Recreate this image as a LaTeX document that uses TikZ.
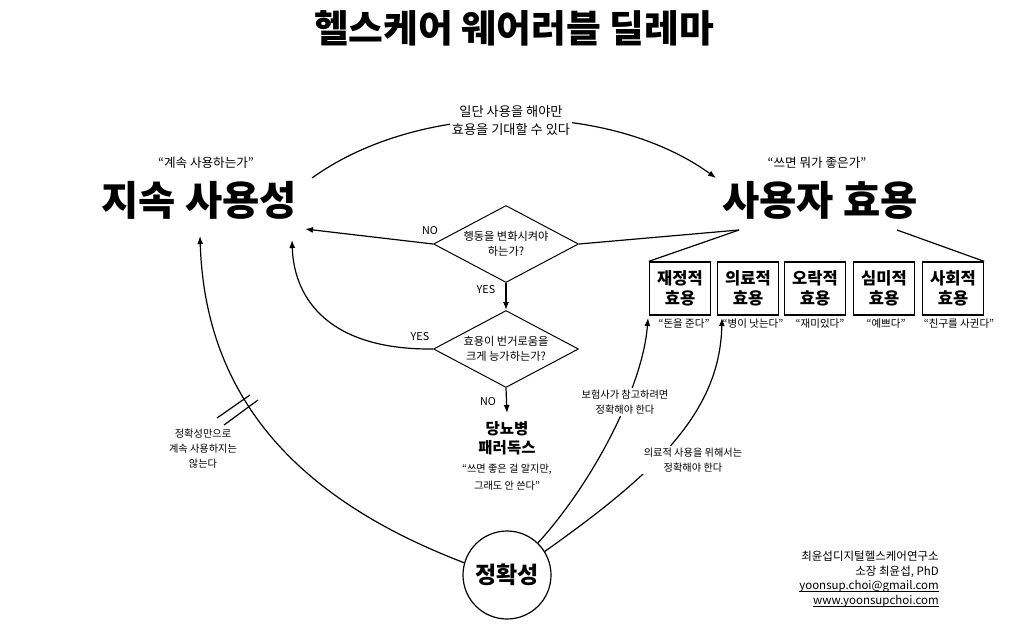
\documentclass[tikz,border=0pt]{standalone}
\usepackage{fontspec}
\setmainfont{Noto Sans CJK KR}
\usetikzlibrary{shapes.geometric,arrows.meta}
\tikzset{
  ln/.style={line width=1.2pt},
  arr/.style={ln,-{Latex[length=8pt,width=6pt]}},
  titlefont/.style={font=\bfseries\fontsize{37.8}{44}\selectfont},
  bigfont/.style={font=\bfseries\fontsize{40.5}{46}\selectfont},
  quotefont/.style={font=\fontsize{12.6}{15}\selectfont},
  lbl/.style={font=\fontsize{10.2}{15}\selectfont,align=center},
  toplbl/.style={font=\fontsize{13.2}{18}\selectfont,align=center},
  dia/.style={diamond,draw,line width=1pt,aspect=1.88,inner sep=0pt,
    minimum width=145pt,minimum height=77pt,align=center,
    font=\fontsize{11.2}{15}\selectfont},
  boxnode/.style={draw,line width=1.3pt,minimum width=61pt,minimum height=53pt,
    inner sep=0pt,align=center,font=\bfseries\fontsize{16.5}{20}\selectfont},
  bq/.style={font=\fontsize{10.5}{13}\selectfont},
  yn/.style={font=\fontsize{10.8}{13}\selectfont},
  cr/.style={anchor=base east,inner sep=0pt,font=\fontsize{11.5}{14}\selectfont},
}
\begin{document}
\begin{tikzpicture}[x=1pt,y=-1pt]
\useasboundingbox (0,0) rectangle (1024,640);
\fill[white] (0,0) rectangle (1024,640);

% title
\node[titlefont] (title) at (514,28) {헬스케어 웨어러블 딜레마};

% main concepts
\node[quotefont] (jsq) at (206,163) {“계속 사용하는가”};
\node[bigfont] (js) at (199,200) {지속 사용성};
\node[quotefont] (suq) at (817,163) {“쓰면 뭐가 좋은가”};
\node[bigfont] (su) at (820,200) {사용자 효용};

% connector end points
\coordinate (arcL) at (312,178);
\coordinate (arcR) at (716,178);
\coordinate (jsR1) at (305,229);
\coordinate (jsR2) at (292,240);
\coordinate (jsB) at (200,236);
\coordinate (suL) at (739,230);
\coordinate (suR) at (897,230);
\coordinate (pdT) at (507,413);
\coordinate (b1tip) at (648,318);
\coordinate (b2tip) at (722,318);

% top arc
\draw[arr] (arcL) .. controls (420,100) and (608,100) .. (arcR);
\node[toplbl,fill=white,inner sep=2pt] (toplabel) at (511,121) {일단 사용을 해야만\\효용을 기대할 수 있다};

% diamonds
\node[dia] (d1) at (506,244) {행동을 변화시켜야\\하는가?};
\node[dia] (d2) at (506,349) {효용이 번거로움을\\크게 능가하는가?};

\draw[arr] (d1.west) -- (jsR1);
\node[yn] (no1) at (430,231) {NO};
\draw[ln] (d1.east) -- (suL);
\draw[arr] (d1.south) -- (d2.north);
\node[yn] (yes1) at (486,290) {YES};
\draw[arr] (d2.west) .. controls (330,350) and (294,300) .. (jsR2);
\node[yn] (yes2) at (420,337) {YES};
\draw[arr] (d2.south) -- (pdT);
\node[yn] (no2) at (488,402) {NO};

% paradox
\node[font=\bfseries\fontsize{15.5}{19.5}\selectfont,align=center] (pd) at (507,438) {당뇨병\\패러독스};
\node[lbl,font=\fontsize{10.2}{17}\selectfont] (pdq) at (507,477) {“쓰면 좋은 걸 알지만,\\그래도 안 쓴다”};

% utility boxes
\node[boxnode] (b1) at (680,288.5) {재정적\\효용};
\node[boxnode] (b2) at (748,288.5) {의료적\\효용};
\node[boxnode] (b3) at (815,288.5) {오락적\\효용};
\node[boxnode] (b4) at (884,288.5) {심미적\\효용};
\node[boxnode] (b5) at (953,288.5) {사회적\\효용};
\draw[ln] (suL) -- (b1.north west);
\draw[ln] (suR) -- (b5.north east);

\node[bq] (q1) at (684,324) {“돈을 준다”};
\node[bq] (q2) at (753,324) {“병이 낫는다”};
\node[bq] (q3) at (820,324) {“재미있다”};
\node[bq] (q4) at (886,324) {“예쁘다”};
\node[bq] (q5) at (959,324) {“친구를 사귄다”};

% accuracy
\node[circle,draw,line width=1.2pt,minimum size=88pt,inner sep=0pt,
  font=\bfseries\fontsize{23}{27}\selectfont] (acc) at (507,575) {정확성};

\draw[arr] (acc.164) .. controls (300,500) and (205,400) .. (jsB);
\draw[ln] (217,418) -- (250,395);
\draw[ln] (224,425) -- (258,400);
\node[lbl] (l1) at (203,449) {정확성만으로\\계속 사용하지는\\않는다};

\draw[arr] (acc.46) .. controls (595,480) and (643,385) .. (b1tip);
\node[lbl,fill=white,inner sep=2pt] (l2) at (625,402) {보험사가 참고하려면\\정확해야 한다};
\draw[arr] (acc.32) .. controls (660,470) and (720,410) .. (b2tip);
\node[lbl,fill=white,inner sep=2pt] (l3) at (693,460) {의료적 사용을 위해서는\\정확해야 한다};

% credits
\node[cr] (c1) at (939,560) {최윤섭디지털헬스케어연구소};
\node[cr] (c2) at (939,575) {소장 최윤섭, PhD};
\node[cr] (c3) at (939,589) {yoonsup.choi@gmail.com};
\node[cr] (c4) at (939,604) {www.yoonsupchoi.com};
\draw[line width=0.7pt] ([yshift=-2pt]c3.base west) -- ([yshift=-2pt]c3.base east);
\draw[line width=0.7pt] ([yshift=-2pt]c4.base west) -- ([yshift=-2pt]c4.base east);
\end{tikzpicture}
\end{document}
